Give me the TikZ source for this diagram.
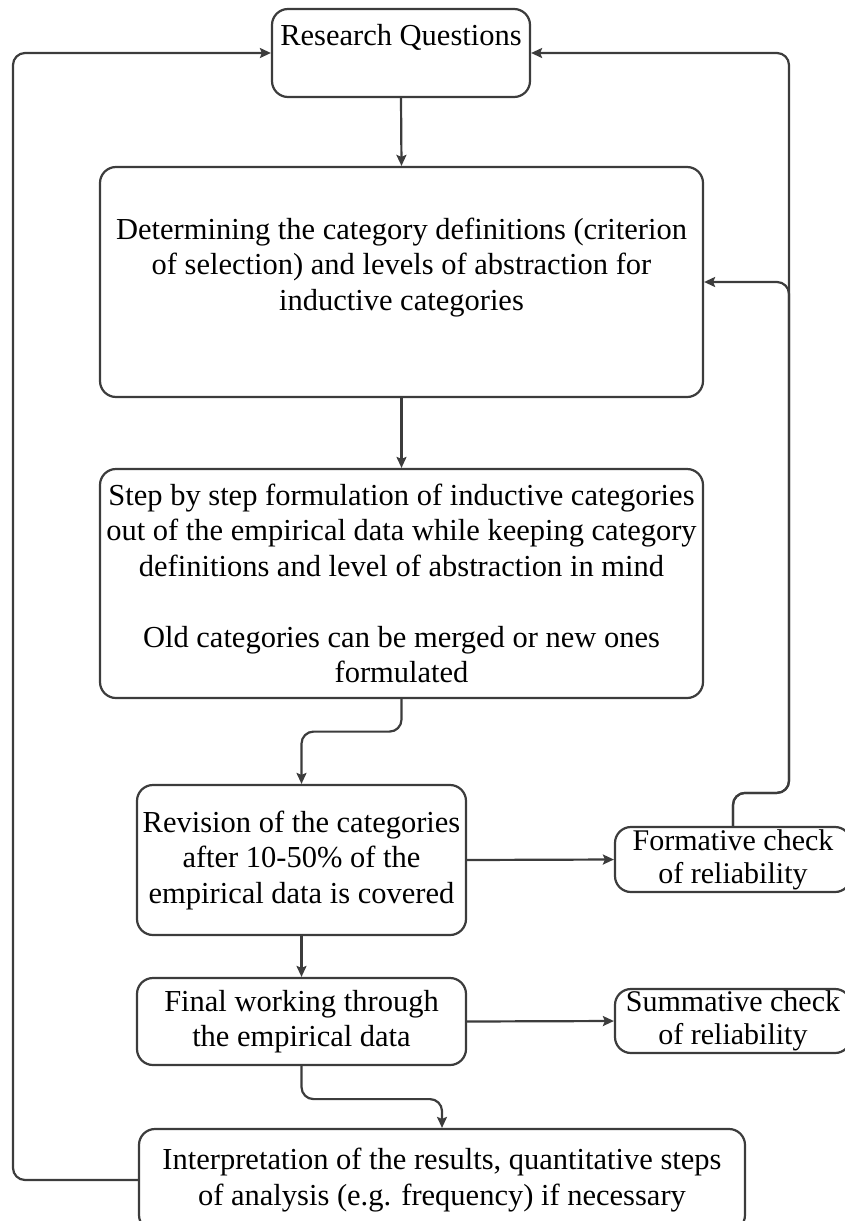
\documentclass[tikz,border=0pt]{standalone}
\usepackage{fontspec}
\setmainfont{Liberation Serif}
\usetikzlibrary{arrows.meta}
\definecolor{edge}{HTML}{3C3C3C}
\begin{document}
\begin{tikzpicture}[x=1pt,y=-1pt,
  box/.style={draw=edge, line width=2.2pt, rounded corners=16pt, inner sep=0pt,
              align=center, font=\fontsize{30.5}{35.5}\selectfont},
  conn/.style={draw=edge, line width=2.2pt, rounded corners=12pt,
               -{Stealth[length=11pt,width=10pt,inset=2pt]}}]
\useasboundingbox (0,0) rectangle (844,1221);

% process boxes
\node[box, minimum width=258pt, minimum height=88pt] (rq) at (401,53)
  {Research Questions\\ \mbox{}};
\node[box, minimum width=603pt, minimum height=230pt] (def) at (401.5,282)
  {Determining the category definitions (criterion\\ of selection) and levels of abstraction for\\ inductive categories\\ \mbox{}};
\node[box, minimum width=603pt, minimum height=229pt] (stepform) at (401.5,583.5)
  {Step by step formulation of inductive categories\\ out of the empirical data while keeping category\\ definitions and level of abstraction in mind\\ \mbox{}\\ Old categories can be merged or new ones\\ formulated};
\node[box, minimum width=329pt, minimum height=150pt] (rev) at (301.5,860)
  {Revision of the categories\\ after 10-50\% of the\\ empirical data is covered};
\node[box, minimum width=329pt, minimum height=87pt] (final) at (301.5,1021.5)
  {Final working through\\ the empirical data};
\node[box, minimum width=606pt, minimum height=102pt] (interp) at (442,1180)
  {Interpretation of the results, quantitative steps\\ of analysis (e.g. frequency) if necessary};

% reliability checks (running past the right edge)
\node[box, minimum width=236pt, minimum height=65pt, font=\fontsize{30}{33}\selectfont] (formative) at (733,859.5)
  {Formative check\\ of reliability};
\node[box, minimum width=236pt, minimum height=64pt, font=\fontsize{30}{33}\selectfont] (summative) at (733,1021)
  {Summative check\\ of reliability};

% return paths
\coordinate (lft) at (13,53);
\coordinate (rgt) at (789,53);

% main flow
\draw[conn] (rq.south) -- (def.north);
\draw[conn] (def.south) -- (stepform.north);
\draw[conn] (stepform.south) -- ++(0,32.5) -| (rev.north);
\draw[conn] (rev.east) -- (formative.west);
\draw[conn] (rev.south) -- (final.north);
\draw[conn] (final.east) -- (summative.west);
\draw[conn] (final.south) -- ++(0,33) -| (interp.north);

% feedback loops
\draw[conn] (interp.west) -| (lft) -- (rq.west);
\draw[conn] (formative.north) -- ++(0,-33) -| (rgt) -- (rq.east);
\draw[conn] (formative.north) -- ++(0,-33) -| (def.east -| rgt) -- (def.east);
\end{tikzpicture}
\end{document}
